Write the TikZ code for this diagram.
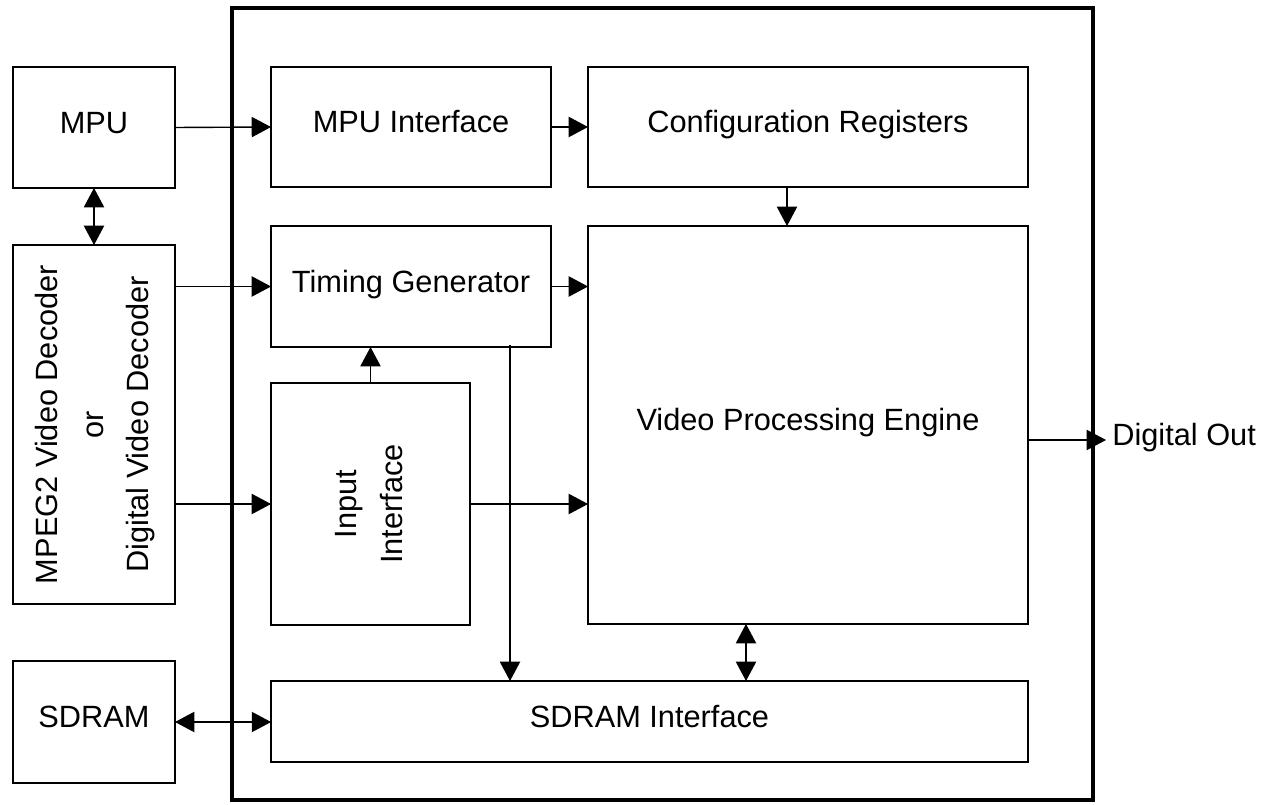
\documentclass[tikz,border=0pt]{standalone}
\usepackage{fontspec}
\setmainfont{Liberation Sans}
\usepackage{graphicx}
\usetikzlibrary{arrows.meta,calc}

\begin{document}
\begin{tikzpicture}[x=0.02cm,y=-0.02cm,
    font=\fontsize{17.5}{26}\selectfont,
    blk/.style={draw,line width=0.8pt,inner sep=0pt,outer sep=0pt},
    txt/.style={text height=1.7ex,text depth=0.5ex},
    arr/.style={line width=0.8pt,-{Triangle[length=11pt,width=11.5pt]}},
    darr/.style={line width=0.8pt,{Triangle[length=11pt,width=11.5pt]}-{Triangle[length=11pt,width=11.5pt]}}]
    \useasboundingbox (0,0) rectangle (1266,804);
    % outer chip frame
    \draw[line width=2.3pt] (232,8) rectangle (1093,800);
    % external blocks
    \node[blk,txt,minimum width=3.24cm,minimum height=2.42cm] (mpu) at (94,127.5) {MPU};
    \node[blk,minimum width=3.24cm,minimum height=7.18cm] (mpeg) at (94,424.5)
        {\rotatebox{90}{\begin{tabular}{c}MPEG2 Video Decoder\\or\\Digital Video Decoder\end{tabular}}};
    \node[blk,txt,minimum width=3.24cm,minimum height=2.44cm] (sdram) at (94,722) {SDRAM};
    % internal blocks
    \node[blk,txt,minimum width=5.6cm,minimum height=2.4cm] (mpui) at (411,127) {MPU Interface};
    \node[blk,txt,minimum width=8.8cm,minimum height=2.4cm] (cfg) at (808,127) {Configuration Registers};
    \node[blk,txt,minimum width=5.6cm,minimum height=2.42cm] (tg) at (411,286.5) {Timing Generator};
    \node[blk,minimum width=3.98cm,minimum height=4.84cm] (inp) at (370.5,504)
        {\rotatebox{90}{\begin{tabular}{c}Input\\Interface\end{tabular}}};
    \node[blk,txt,minimum width=8.8cm,minimum height=7.96cm] (vpe) at (808,425) {Video Processing Engine};
    \node[blk,txt,minimum width=15.14cm,minimum height=1.62cm] (sdi) at (649.5,721.5) {SDRAM Interface};
    \node[txt,anchor=west,inner sep=0pt] (out) at (1112,440) {Digital Out};
    % connection points
    \coordinate (cfgd) at ($(cfg.south)+(-21,0)$);
    \coordinate (tgd) at ($(tg.south)+(99,-2)$);
    \coordinate (vped) at ($(vpe.south)+(-62,0)$);
    % connections
    \draw[arr] (mpu.east) -- (mpui.west);
    \draw[arr] (mpui.east) -- (cfg.west);
    \draw[arr] (cfgd) -- (cfgd |- vpe.north);
    \draw[darr] (mpu.south) -- (mpeg.north);
    \draw[arr] (mpeg.east |- tg.west) -- (tg.west);
    \draw[arr] (tg.east) -- (tg.east -| vpe.west);
    \draw[arr] (mpeg.east |- inp.west) -- (inp.west);
    \draw[arr] (inp.east) -- (inp.east -| vpe.west);
    \draw[arr] (inp.north) -- (inp.north |- tg.south);
    \draw[arr] (tgd) -- (tgd |- sdi.north);
    \draw[darr] (vped) -- (vped |- sdi.north);
    \draw[darr] (sdram.east) -- (sdram.east -| sdi.west);
    \draw[arr] (vpe.east |- out.west) -- ($(out.west)+(-6,0)$);
\end{tikzpicture}
\end{document}
